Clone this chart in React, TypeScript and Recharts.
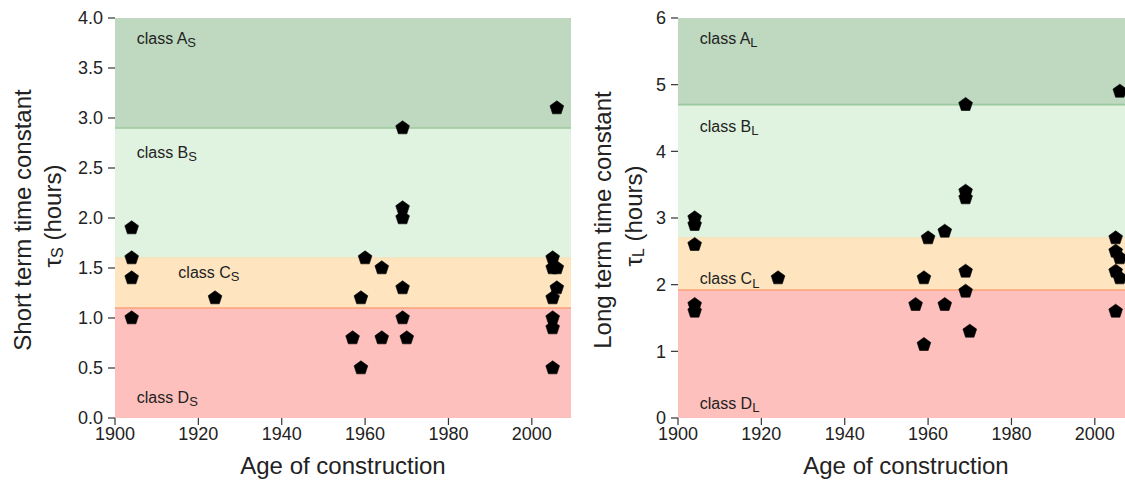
import React from 'react';
import {
  ScatterChart, Scatter, XAxis, YAxis, ReferenceArea, ReferenceLine, ReferenceDot,
} from 'recharts';

// ---------- data ----------
const yearTicks = [1900, 1920, 1940, 1960, 1980, 2000];
const yearDomain = [1900, 2009.4];

const shortTicks = [0, 0.5, 1.0, 1.5, 2.0, 2.5, 3.0, 3.5, 4.0];
const longTicks = [0, 1, 2, 3, 4, 5, 6];

// class boundaries (D, C, B, A from bottom to top)
const shortBounds = [0, 1.1, 1.6, 2.9, 4.0];
const longBounds = [0, 1.92, 2.7, 4.7, 6.0];
const classNames = ['D', 'C', 'B', 'A'];

const tauSYears = [1904, 1904, 1904, 1904, 1924, 1957, 1959, 1959, 1960, 1964, 1964, 1969, 1969, 1969, 1969, 1969, 1970, 2005, 2005, 2005, 2005, 2005, 2005, 2006, 2006, 2006];
const tauSValues = [1.9, 1.6, 1.4, 1.0, 1.2, 0.8, 1.2, 0.5, 1.6, 1.5, 0.8, 2.9, 2.1, 2.0, 1.3, 1.0, 0.8, 1.6, 1.5, 1.2, 1.0, 0.9, 0.5, 3.1, 1.5, 1.3];

const tauLYears = [1904, 1904, 1904, 1904, 1904, 1924, 1957, 1959, 1959, 1960, 1964, 1964, 1969, 1969, 1969, 1969, 1969, 1970, 2005, 2005, 2005, 2005, 2006, 2006, 2006];
const tauLValues = [3.0, 2.9, 2.6, 1.7, 1.6, 2.1, 1.7, 2.1, 1.1, 2.7, 2.8, 1.7, 4.7, 3.4, 3.3, 2.2, 1.9, 1.3, 2.7, 2.5, 2.2, 1.6, 4.9, 2.4, 2.1];

// class label anchor positions (year, value) for D, C, B, A
const shortLabelYears = [1905.2, 1915.2, 1905.2, 1905.2];
const shortLabelValues = [0.21, 1.46, 2.66, 3.8];
const longLabelYears = [1905.2, 1905.2, 1905.2, 1905.2];
const longLabelValues = [0.22, 2.09, 4.38, 5.7];

// ---------- styles ----------
const bandFills = ['#fec0bc', '#fee5c0', '#e0f3e0', '#bed9bf'];
const boundaryColors = ['#f9a27a', '#fbe0b8', '#9cc89e'];
const FONT = '"Liberation Sans", Arial, Helvetica, sans-serif';
const TEXT = '#222';

const zip = (xs: number[], ys: number[]) => xs.map((x, i) => ({ x, y: ys[i] }));

const Pentagon = (props: any) => {
  const { cx, cy } = props;
  if (cx == null || cy == null) return null;
  const R = 7.2;
  const pts: string[] = [];
  for (let k = 0; k < 5; k++) {
    const a = (-90 + k * 72) * Math.PI / 180;
    pts.push(`${cx + R * Math.cos(a)},${cy + R * Math.sin(a)}`);
  }
  return <polygon points={pts.join(' ')} fill="#000" stroke="#000" strokeWidth={0.6} />;
};

const makeClassLabel = (name: string, sub: string) => (props: any) => {
  const { cx, cy } = props;
  return (
    <text x={cx} y={cy} dominantBaseline="central" fontFamily={FONT} fontSize={16} fill={TEXT}>
      {'class ' + name}
      <tspan dy={4} fontSize={13}>{sub}</tspan>
    </text>
  );
};

interface PanelProps {
  data: { x: number; y: number }[];
  bounds: number[];
  yTicks: number[];
  fmt: (v: number) => string;
  sub: string;
  labelYears: number[];
  labelValues: number[];
  titleX: [number, number];
  titleLine1: string;
}

const Panel = ({ data, bounds, yTicks, fmt, sub, labelYears, labelValues, titleX, titleLine1 }: PanelProps) => {
  const yDomain = [bounds[0], bounds[bounds.length - 1]];
  return (
    <ScatterChart width={590} height={481} margin={{ top: 18, right: 19, bottom: 0, left: 0 }}>
      {classNames.map((c, i) => (
        <ReferenceArea
          key={'a' + c}
          x1={yearDomain[0]}
          x2={yearDomain[1]}
          y1={bounds[i]}
          y2={bounds[i + 1]}
          fill={bandFills[i]}
          fillOpacity={1}
          stroke="none"
          ifOverflow="extendDomain"
        />
      ))}
      {boundaryColors.map((col, i) => (
        <ReferenceLine key={'l' + i} y={bounds[i + 1]} stroke={col} strokeWidth={1.6} />
      ))}
      {classNames.map((c, i) => (
        <ReferenceDot
          key={'t' + c}
          x={labelYears[i]}
          y={labelValues[i]}
          r={0}
          shape={makeClassLabel(c, sub)}
        />
      ))}
      <XAxis
        type="number"
        dataKey="x"
        domain={yearDomain}
        ticks={yearTicks}
        axisLine={false}
        tickLine={{ stroke: '#333', strokeWidth: 1.2 }}
        tickSize={7}
        tickMargin={2}
        height={63}
        tick={{ fill: TEXT, fontSize: 18, fontFamily: FONT }}
        label={(p: any) => {
          const vb = p.viewBox || {};
          return (
            <text x={vb.x + vb.width / 2} y={474} textAnchor="middle" fontFamily={FONT} fontSize={24} fill={TEXT}>
              Age of construction
            </text>
          );
        }}
      />
      <YAxis
        type="number"
        dataKey="y"
        domain={yDomain}
        ticks={yTicks}
        tickFormatter={fmt}
        axisLine={false}
        tickLine={{ stroke: '#333', strokeWidth: 1.2 }}
        tickSize={7}
        tickMargin={5}
        width={115}
        tick={{ fill: TEXT, fontSize: 18, fontFamily: FONT }}
        label={(p: any) => {
          const cy = 220;
          const cy2 = 216;
          return (
            <g>
              <text x={titleX[0]} y={cy} transform={`rotate(-90 ${titleX[0]} ${cy})`} textAnchor="middle" dominantBaseline="central" fontFamily={FONT} fontSize={24} fill={TEXT}>
                {titleLine1}
              </text>
              <text x={titleX[1]} y={cy2} transform={`rotate(-90 ${titleX[1]} ${cy2})`} textAnchor="middle" dominantBaseline="central" fontFamily={FONT} fontSize={24} fill={TEXT}>
                τ<tspan dy={5} fontSize={16}>{sub}</tspan><tspan dy={-5}> (hours)</tspan>
              </text>
            </g>
          );
        }}
      />
      <Scatter data={data} shape={<Pentagon />} isAnimationActive={false} />
    </ScatterChart>
  );
};

export default function App() {
  const shortData = zip(tauSYears, tauSValues);
  const longData = zip(tauLYears, tauLValues);
  return (
    <div style={{ position: 'absolute', left: 0, top: 0, width: 1125, height: 481, overflow: 'hidden', background: '#fff' }}>
      <div style={{ position: 'absolute', left: 0, top: 0 }}>
        <Panel
          data={shortData}
          bounds={shortBounds}
          yTicks={shortTicks}
          fmt={(v) => v.toFixed(1)}
          sub="S"
          labelYears={shortLabelYears}
          labelValues={shortLabelValues}
          titleX={[22, 52]}
          titleLine1="Short term time constant"
        />
      </div>
      <div style={{ position: 'absolute', left: 563, top: 0 }}>
        <Panel
          data={longData}
          bounds={longBounds}
          yTicks={longTicks}
          fmt={(v) => String(v)}
          sub="L"
          labelYears={longLabelYears}
          labelValues={longLabelValues}
          titleX={[39, 70]}
          titleLine1="Long term time constant"
        />
      </div>
    </div>
  );
}
